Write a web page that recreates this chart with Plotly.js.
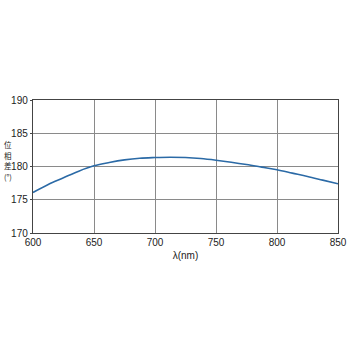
<!DOCTYPE html>
<html><head><meta charset="utf-8">
<script src="https://cdn.plot.ly/plotly-3.0.1.min.js"></script>
<style>html,body{margin:0;padding:0;background:#fff}#c{width:350px;height:350px}</style>
</head><body><div id="c"></div>
<script>
const wavelength = [600, 612.5, 625, 637.5, 650, 662.5, 675, 687.5, 700, 712.5, 725, 737.5, 750, 762.5, 775, 787.5, 800, 812.5, 825, 837.5, 850];
const phaseDiff = [176.1, 177.3, 178.3, 179.3, 180.1, 180.6, 181.0, 181.25, 181.35, 181.4, 181.35, 181.2, 180.95, 180.65, 180.3, 179.9, 179.5, 179.0, 178.5, 177.95, 177.4];
const xTicks = [600, 650, 700, 750, 800, 850];
const yTicks = [170, 175, 180, 185, 190];
const yTitleChars = ['位', '相', '差', '(°)'];

const font = {family: 'Liberation Sans, Arial, sans-serif', size: 10, color: '#222'};
const plotTop = 100, plotBottom = 233;
const charPx = [144.5, 155, 165.5, 176];
Plotly.newPlot('c', [{
  x: wavelength, y: phaseDiff, type: 'scatter', mode: 'lines',
  line: {color: '#2b6aa6', width: 1.6, shape: 'spline'}, hoverinfo: 'skip'
}], {
  width: 350, height: 350,
  margin: {l: 33, r: 12, t: plotTop, b: 350 - plotBottom},
  paper_bgcolor: '#fff', plot_bgcolor: '#fff',
  showlegend: false,
  font: font,
  xaxis: {range: [600, 850], tickvals: xTicks, ticktext: xTicks.map(String),
    showgrid: true, gridcolor: '#8a8a8a', gridwidth: 1,
    showline: true, linecolor: '#444', linewidth: 1.2, mirror: true,
    ticks: '', ticklen: 0, zeroline: false, tickfont: font,
    title: {text: 'λ(nm)', font: font, standoff: 4}},
  yaxis: {range: [170, 190], tickvals: yTicks, ticktext: yTicks.map(String),
    showgrid: true, gridcolor: '#8a8a8a', gridwidth: 1,
    showline: true, linecolor: '#444', linewidth: 1.2, mirror: true,
    ticks: 'outside', ticklen: 2, tickcolor: '#444', zeroline: false, tickfont: font},
  annotations: yTitleChars.map((ch, i) => ({
    text: ch, xref: 'paper', yref: 'paper',
    x: (7.5 - 33) / 305, y: (plotBottom - charPx[i]) / (plotBottom - plotTop),
    xanchor: 'center', yanchor: 'middle', showarrow: false,
    font: {family: 'Noto Sans CJK JP, sans-serif', size: 7.5, color: '#222'}
  }))
}, {displayModeBar: false, staticPlot: true});
</script></body></html>
